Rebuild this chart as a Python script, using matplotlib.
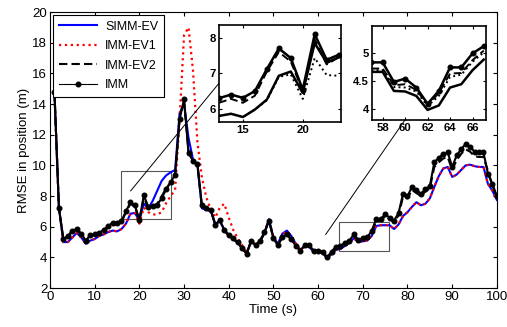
import matplotlib
matplotlib.use("Agg")
import matplotlib.pyplot as plt
from matplotlib.patches import Rectangle

plt.rcParams['font.family'] = ['Liberation Sans', 'DejaVu Sans']

# --- Data ---
t = list(range(1, 101))

simm_ev = [14.7, 7.2, 5.0, 5.0, 5.3, 5.6, 5.3, 4.9, 5.1, 5.2,
           5.4, 5.5, 5.65, 5.75, 5.7, 5.85, 6.2, 6.85, 6.9, 6.4,
           7.5, 7.2, 7.7, 8.35, 9.0, 9.35, 9.55, 9.7, 13.4, 14.0,
           11.8, 10.4, 10.0, 7.2, 7.1, 7.0, 6.2, 6.35, 5.8, 5.45,
           5.2, 4.95, 4.6, 4.25, 5.0, 4.85, 5.0, 5.6, 6.5, 5.3,
           4.9, 5.55, 5.75, 5.4, 4.9, 4.5, 4.7, 4.7, 4.35, 4.35,
           4.28, 3.95, 4.2, 4.5, 4.55, 4.75, 4.95, 5.25, 5.0, 5.05,
           5.1, 5.4, 6.05, 6.1, 6.1, 6.1, 5.85, 6.15, 6.7, 6.95,
           7.3, 7.6, 7.4, 7.5, 7.85, 8.6, 9.3, 9.8, 9.9, 9.25,
           9.4, 9.7, 10.0, 10.05, 9.95, 9.9, 9.9, 8.8, 8.35, 7.75]

imm_ev1 = [14.7, 7.2, 5.0, 5.0, 5.3, 5.6, 5.3, 4.9, 5.1, 5.2,
           5.4, 5.5, 5.65, 5.75, 5.7, 5.85, 6.2, 6.85, 6.9, 6.2,
           7.25, 6.95, 6.8, 6.8, 6.95, 7.55, 8.0, 8.4, 13.0, 18.5,
           19.0, 16.2, 11.5, 9.2, 7.9, 7.1, 6.6, 7.25, 7.5, 6.6,
           5.8, 5.25, 4.8, 4.3, 5.0, 4.85, 5.05, 5.65, 6.5, 5.3,
           4.9, 5.5, 5.7, 5.4, 4.9, 4.5, 4.7, 4.7, 4.35, 4.35,
           4.28, 3.95, 4.2, 4.5, 4.55, 4.75, 4.95, 5.25, 5.0, 5.05,
           5.1, 5.4, 6.05, 6.1, 6.1, 6.1, 5.85, 6.15, 6.7, 6.95,
           7.3, 7.6, 7.4, 7.5, 7.85, 8.6, 9.3, 9.8, 9.9, 9.25,
           9.4, 9.7, 10.0, 10.05, 9.95, 9.9, 9.9, 8.8, 8.35, 7.75]

imm_ev2 = [14.75, 7.2, 5.15, 5.35, 5.7, 5.8, 5.5, 5.05, 5.4, 5.45,
           5.55, 5.7, 5.95, 6.15, 6.15, 6.3, 6.95, 7.5, 7.3, 6.45,
           7.9, 7.2, 7.3, 7.5, 8.0, 8.5, 8.9, 9.3, 13.2, 14.2,
           10.9, 10.3, 10.0, 7.3, 7.15, 7.05, 6.1, 6.4, 5.75, 5.4,
           5.2, 4.95, 4.6, 4.25, 5.05, 4.8, 5.05, 5.6, 6.4, 5.25,
           4.8, 5.3, 5.45, 5.2, 4.75, 4.45, 4.75, 4.75, 4.4, 4.4,
           4.35, 3.98, 4.3, 4.6, 4.65, 4.85, 5.0, 5.4, 5.1, 5.2,
           5.25, 5.65, 6.35, 6.4, 6.7, 6.5, 6.3, 6.75, 7.95, 7.85,
           8.4, 8.2, 8.0, 8.3, 8.5, 9.9, 10.2, 10.45, 10.55, 9.7,
           10.35, 10.75, 11.05, 10.9, 10.6, 10.55, 10.55, 9.65, 8.7, 7.95]

imm = [14.8, 7.25, 5.2, 5.4, 5.75, 5.85, 5.55, 5.1, 5.45, 5.5,
       5.6, 5.8, 6.05, 6.25, 6.25, 6.4, 7.0, 7.6, 7.4, 6.45,
       8.05, 7.3, 7.35, 7.45, 7.85, 8.45, 8.9, 9.4, 13.0, 14.3,
       10.8, 10.3, 10.1, 7.4, 7.2, 7.1, 6.1, 6.45, 5.8, 5.45,
       5.25, 5.0, 4.6, 4.25, 5.1, 4.8, 5.1, 5.65, 6.4, 5.25,
       4.8, 5.35, 5.5, 5.2, 4.75, 4.45, 4.8, 4.8, 4.45, 4.45,
       4.38, 4.0, 4.38, 4.7, 4.75, 4.95, 5.1, 5.5, 5.15, 5.25,
       5.3, 5.75, 6.5, 6.5, 6.8, 6.6, 6.4, 6.9, 8.15, 8.0,
       8.6, 8.4, 8.15, 8.45, 8.65, 10.2, 10.5, 10.75, 10.85, 9.9,
       10.65, 11.05, 11.4, 11.2, 10.9, 10.85, 10.85, 9.45, 8.8, 8.0]

# inset 1 (t = 13..23)
t_ins1 = list(range(13, 24))
ins1_simm = [5.8, 5.86, 5.77, 5.98, 6.26, 6.93, 7.05, 6.45, 7.85, 7.3, 7.45]
ins1_ev1 = [5.8, 5.86, 5.77, 5.98, 6.24, 6.9, 6.97, 6.28, 7.43, 6.95, 6.93]
ins1_ev2 = [6.17, 6.28, 6.17, 6.37, 7.05, 7.6, 7.33, 6.5, 7.95, 7.25, 7.45]
ins1_imm = [6.3, 6.4, 6.31, 6.5, 7.12, 7.7, 7.43, 6.54, 8.1, 7.38, 7.52]

# inset 2 (t = 57..67)
t_ins2 = list(range(57, 68))
ins2_simm = [4.67, 4.67, 4.33, 4.32, 4.24, 3.99, 4.07, 4.39, 4.45, 4.7, 4.89]
ins2_ev1 = [4.7, 4.7, 4.4, 4.39, 4.32, 4.06, 4.24, 4.58, 4.62, 4.85, 5.02]
ins2_ev2 = [4.73, 4.73, 4.43, 4.45, 4.35, 4.08, 4.29, 4.64, 4.65, 4.88, 5.05]
ins2_imm = [4.84, 4.84, 4.49, 4.55, 4.39, 4.1, 4.33, 4.75, 4.75, 5.0, 5.13]

labels = ['SIMM-EV', 'IMM-EV1', 'IMM-EV2', 'IMM']

# --- Main plot ---
fig = plt.figure(figsize=(5.07, 3.27), dpi=100)
ax = fig.add_axes([0.0986, 0.119, 0.8814, 0.844])

ax.plot(t, simm_ev, color='#0000ff', lw=1.5, label=labels[0])
ax.plot(t, imm_ev1, color='#ff0000', lw=1.6, ls=':', label=labels[1])
ax.plot(t, imm_ev2, color='black', lw=1.5, ls='--', dashes=(4, 2), label=labels[2])
ax.plot(t, imm, color='black', lw=1.5, marker='o', ms=3.3, label=labels[3])

ax.set_xlim(0, 100)
ax.set_ylim(2, 20)
ax.set_xticks(range(0, 101, 10))
ax.set_yticks(range(2, 21, 2))
ax.tick_params(direction='in', top=True, right=True, labelsize=9.5, length=3, pad=2)
ax.set_xlabel('Time (s)', fontsize=9.5, labelpad=1)
ax.set_ylabel('RMSE in position (m)', fontsize=9.5, labelpad=2)

leg = ax.legend(loc='upper left', fontsize=9, handlelength=3.1, fancybox=False,
                edgecolor='black', framealpha=1, borderaxespad=0.25,
                labelspacing=0.6, borderpad=0.45, handletextpad=0.6)
leg.get_frame().set_linewidth(0.8)
leg.get_lines()[3].set_linewidth(0.8)

# zoom boxes and connector lines
ax.add_patch(Rectangle((16, 6.52), 11.1, 3.13, fill=False, ec='#555555', lw=0.8))
ax.add_patch(Rectangle((64.7, 4.43), 11.2, 1.9, fill=False, ec='#555555', lw=0.8))
ax.plot([18.05, 37.9], [8.34, 15.39], color='black', lw=0.7)
ax.plot([61.7, 79.4], [5.5, 12.95], color='black', lw=0.7)

# --- Insets ---
def draw_inset(rect, tt, s, e1, e2, m, xlim, ylim, xt, yt, ylabels):
    ia = fig.add_axes(rect)
    ia.plot(tt, s, color='black', lw=1.8)
    ia.plot(tt, e1, color='black', lw=1.4, ls=':')
    ia.plot(tt, e2, color='black', lw=1.4, ls='--', dashes=(4, 2))
    ia.plot(tt, m, color='black', lw=1.8, marker='o', ms=3.3)
    ia.set_xlim(*xlim)
    ia.set_ylim(*ylim)
    ia.set_xticks(xt)
    ia.set_yticks(yt)
    ia.set_yticklabels(ylabels)
    ia.tick_params(direction='in', top=True, right=True, length=2.5, labelsize=8.2, pad=2)
    for lab in ia.get_xticklabels() + ia.get_yticklabels():
        lab.set_fontweight('bold')
    for sp in ia.spines.values():
        sp.set_linewidth(1.2)
    return ia

draw_inset([0.432, 0.627, 0.2406, 0.2966], t_ins1, ins1_simm, ins1_ev1, ins1_ev2, ins1_imm,
           (13, 23.2), (5.63, 8.36), [15, 20], [6, 7, 8], ['6', '7', '8'])
draw_inset([0.7337, 0.633, 0.2249, 0.2875], t_ins2, ins2_simm, ins2_ev1, ins2_ev2, ins2_imm,
           (57.05, 67.2), (3.81, 5.49), [58, 60, 62, 64, 66], [4, 4.5, 5], ['4', '4.5', '5'])

fig.savefig('out.png', dpi=100)
